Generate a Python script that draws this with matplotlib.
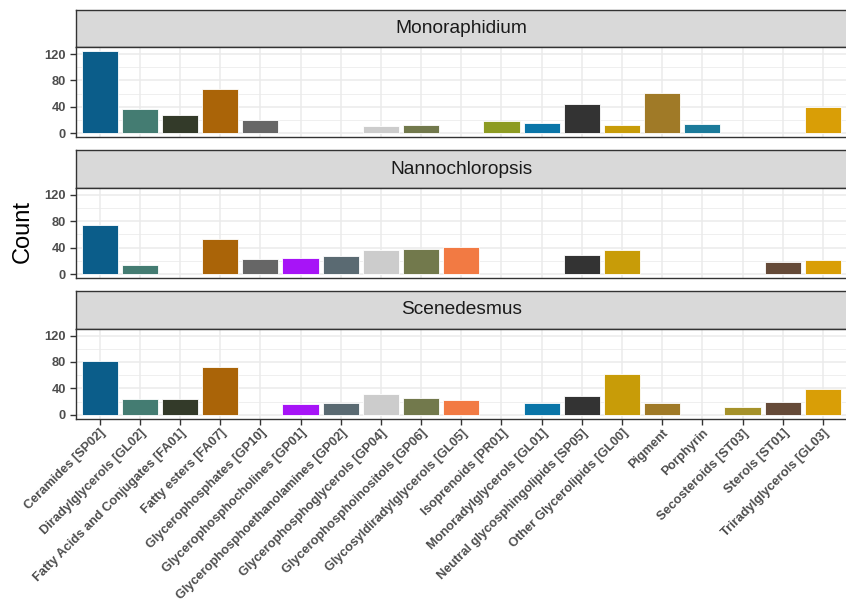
import matplotlib
matplotlib.use("Agg")
import matplotlib.pyplot as plt
import numpy as np

plt.rcParams['font.family'] = ['Liberation Sans', 'DejaVu Sans']

# categories on the x axis
categories = ['Ceramides [SP02]', 'Diradylglycerols [GL02]', 'Fatty Acids and Conjugates [FA01]',
              'Fatty esters [FA07]', 'Glycerophosphates [GP10]', 'Glycerophosphocholines [GP01]',
              'Glycerophosphoethanolamines [GP02]', 'Glycerophosphoglycerols [GP04]',
              'Glycerophosphoinositols [GP06]', 'Glycosyldiradylglycerols [GL05]', 'Isoprenoids [PR01]',
              'Monoradylglycerols [GL01]', 'Neutral glycosphingolipids [SP05]', 'Other Glycerolipids [GL00]',
              'Pigment', 'Porphyrin', 'Secosteroids [ST03]', 'Sterols [ST01]', 'Triradylglycerols [GL03]']

bar_colors = ['#0B5D8A', '#447C72', '#333A29', '#AA6408', '#666666', '#A714F7', '#5A6A72',
              '#CCCCCC', '#72794C', '#F27A43', '#8D9B22', '#0A75A8', '#333333', '#C89C08',
              '#A07A27', '#1B7A9A', '#A6922A', '#654A38', '#D99E06']

# counts per organism (0 = no bar)
facets = ['Monoraphidium', 'Nannochloropsis', 'Scenedesmus']
monoraphidium = [124, 37, 27, 67, 20, 0, 0, 11, 12, 0, 19, 16, 44, 12, 61, 14, 0, 0, 40]
nannochloropsis = [74, 14, 0, 53, 23, 25, 27, 37, 38, 41, 0, 0, 29, 37, 0, 0, 0, 18, 21]
scenedesmus = [82, 24, 24, 73, 0, 16, 18, 31, 26, 22, 0, 17, 28, 61, 17, 0, 12, 19, 39]
counts = [monoraphidium, nannochloropsis, scenedesmus]

W, H = 846, 611
fig = plt.figure(figsize=(W / 100, H / 100), dpi=100)

def box(left, top, right, bottom):
    # pixel box -> figure fraction
    return [left / W, 1 - bottom / H, (right - left) / W, (bottom - top) / H]

left, right = 75.5, 847
strip_tops = [9.5, 150.3, 291]
strip_h = 37.8
panel_h = 90

x = np.arange(len(categories))
ymax = max(max(c) for c in counts)

for i, (name, vals) in enumerate(zip(facets, counts)):
    st = strip_tops[i]
    # strip
    sax = fig.add_axes(box(left, st, right, st + strip_h))
    sax.set_facecolor('#D9D9D9')
    sax.set_xticks([])
    sax.set_yticks([])
    for s in sax.spines.values():
        s.set_color('#333333')
        s.set_linewidth(1.0)
    sax.text(0.5, 0.5, name, ha='center', va='center', fontsize=13.8, color='#1A1A1A',
             transform=sax.transAxes)

    # panel
    ax = fig.add_axes(box(left, st + strip_h, right, st + strip_h + panel_h))
    keep = [j for j, v in enumerate(vals) if v > 0]
    ax.bar(x[keep], [vals[j] for j in keep], width=0.9,
           color=[bar_colors[j] for j in keep], edgecolor='white', linewidth=0.6, zorder=3)
    ax.set_xlim(-0.6, len(categories) - 0.4)
    ax.set_ylim(-0.05 * ymax, 1.05 * ymax)
    ax.set_yticks([0, 40, 80, 120])
    ax.set_yticks([20, 60, 100], minor=True)
    ax.set_xticks(x)
    ax.grid(which='major', color='#EBEBEB', linewidth=1.1, zorder=0)
    ax.grid(which='minor', axis='y', color='#EBEBEB', linewidth=0.55, zorder=0)
    ax.set_axisbelow(True)
    ax.tick_params(axis='y', which='major', length=4, width=1, color='#333333',
                   labelsize=9.3, labelcolor='#4D4D4D', pad=3)
    ax.tick_params(axis='y', which='minor', length=0)
    for lab in ax.get_yticklabels():
        lab.set_fontweight('bold')
    for s in ax.spines.values():
        s.set_color('#333333')
        s.set_linewidth(1.0)
    if i == len(facets) - 1:
        ax.tick_params(axis='x', length=4, width=1, color='#333333', pad=2)
        ax.set_xticklabels(categories, rotation=45, ha='right', va='top',
                           rotation_mode='anchor', fontsize=9.2, fontweight='bold', color='#4D4D4D')
    else:
        ax.tick_params(axis='x', length=0, labelbottom=False)

fig.text(23 / W, 1 - 232 / H, 'Count', rotation=90, ha='center', va='center', fontsize=17, color='black')

plt.savefig('out.png', dpi=100)
